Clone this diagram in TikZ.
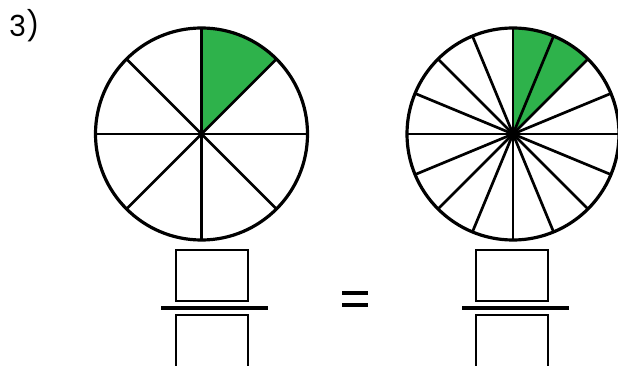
\documentclass[tikz,border=0pt]{standalone}
\usepackage{fontspec}
\setmainfont{Poppins}
\usepackage{tikz}
\usetikzlibrary{positioning}
\definecolor{slicegreen}{HTML}{2EB24B}
\tikzset{
  rim/.style={line width=3.2pt},
  spoke/.style={line width=2.7pt},
  answerbox/.style={line width=1.7pt},
  barline/.style={line width=3.6pt}
}

\begin{document}
\begin{tikzpicture}[x=1pt,y=-1pt]
\useasboundingbox (0,0) rectangle (618,366);
% Label
\node[font=\fontsize{29}{30}\selectfont, anchor=north west, inner sep=0pt] (label) at (9,9) {3)};
% Left circle: eighths
\coordinate (cA) at (201.5,134);
\fill[slicegreen] (cA) -- ++(-90:106) arc[start angle=-90, end angle=-45, radius=106] -- cycle;
\foreach \a in {0,45,...,315} \draw[spoke] (cA) -- ++(\a:106);
\draw[rim] (cA) circle[radius=106];
% Right circle: sixteenths
\coordinate (cB) at (513,134);
\fill[slicegreen] (cB) -- ++(-90:106) arc[start angle=-90, end angle=-45, radius=106] -- cycle;
\foreach \a in {0,22.5,...,337.5} \draw[spoke] (cB) -- ++(\a:106);
\draw[rim] (cB) circle[radius=106];
% Left fraction
\draw[answerbox] (176,250) rectangle (248,301);
\draw[barline] (161,308) -- (268,308);
\draw[answerbox] (176,366) |- (248,315) -- (248,366);
% Equals
\draw[barline] (342,293) -- (368,293);
\draw[barline] (342,305) -- (368,305);
% Right fraction
\draw[answerbox] (476,250) rectangle (548,301);
\draw[barline] (462,308) -- (569,308);
\draw[answerbox] (476,366) |- (548,315) -- (548,366);
\end{tikzpicture}
\end{document}
